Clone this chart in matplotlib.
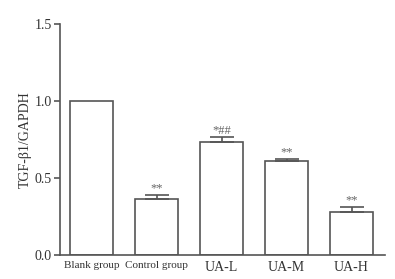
import matplotlib
matplotlib.use("Agg")
import matplotlib.pyplot as plt

categories = ["Blank group", "Control group", "UA-L", "UA-M", "UA-H"]
values = [1.0, 0.362, 0.732, 0.61, 0.281]
errors = [0.0, 0.028, 0.032, 0.013, 0.029]
marks = ["", "**", "*##", "**", "**"]
yticks = [0.0, 0.5, 1.0, 1.5]
ylabel = "TGF-β1/GAPDH"
label_sizes = [8, 8, 10, 10, 10]

plt.rcParams['font.family'] = ['Liberation Serif', 'DejaVu Serif']
lc = "#555555"
tc = "#333333"

fig = plt.figure(figsize=(3.95, 2.79), dpi=100)
ax = fig.add_axes([60/395, 1-255/279, 325/395, (255-24)/279])
x = list(range(len(categories)))
ax.bar(x, values, width=0.66, color="white", edgecolor=lc, linewidth=1.2, zorder=2)
for xi, v, e, m in zip(x, values, errors, marks):
    if e > 0:
        ax.errorbar(xi, v, yerr=[[0], [e]], fmt="none", ecolor=lc, elinewidth=1.2,
                    capsize=8.5, capthick=1.2, zorder=3)
    if m:
        ax.text(xi, v + e + 0.003, m, ha="center", va="bottom", fontsize=9, color="#666666")

ax.set_xlim(-0.485, 4.515)
ax.set_ylim(0, 1.5)
ax.set_yticks(yticks)
ax.set_yticklabels([f"{t:.1f}" for t in yticks], fontsize=10, color=tc)
ax.set_xticks(x)
ax.set_xticklabels(categories, color=tc)
for lab, fs in zip(ax.get_xticklabels(), label_sizes):
    lab.set_fontsize(fs)
ax.tick_params(axis="x", length=0, pad=4)
ax.tick_params(axis="y", length=4, width=1.2, color=lc, pad=2)
for s in ["top", "right"]:
    ax.spines[s].set_visible(False)
for s in ["left", "bottom"]:
    ax.spines[s].set_color(lc)
    ax.spines[s].set_linewidth(1.2)
ax.set_ylabel(ylabel, fontsize=10, color=tc, labelpad=2)
fig.savefig("out.png", dpi=100)
